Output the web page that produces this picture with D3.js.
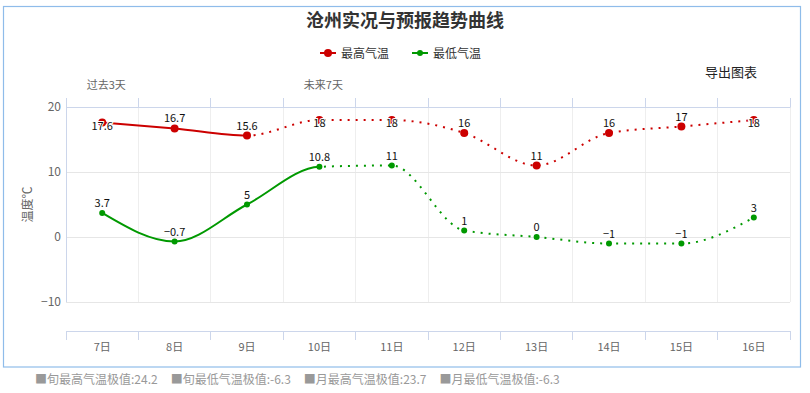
<!DOCTYPE html>
<html><head><meta charset="utf-8">
<script src="https://cdn.jsdelivr.net/npm/d3@7/dist/d3.min.js"></script>
<style>
html,body{margin:0;padding:0;background:#fff;}
text{font-family:"Noto Sans CJK SC","Noto Sans",sans-serif;}
</style></head>
<body><svg id="c" width="810" height="393"></svg>
<script>
const categories = ["7日","8日","9日","10日","11日","12日","13日","14日","15日","16日"];
const highTemps = [17.6, 16.7, 15.6, 18, 18, 16, 11, 16, 17, 18];
const lowTemps  = [3.7, -0.7, 5, 10.8, 11, 1, 0, -1, -1, 3];
const highObservedCount = 3;   // solid part (past)
const lowObservedCount = 4;
const topLabels = ["过去3天","","","未来7天","","","","","",""];
const yTicks = [-10, 0, 10, 20];
const seriesNames = ["最高气温","最低气温"];
const footItems = ["■旬最高气温极值:24.2","■旬最低气温极值:-6.3","■月最高气温极值:23.7","■月最低气温极值:-6.3"];

const svg = d3.select("#c");
const W = 810, H = 393;
const L = 66, R = 790, T = 107, B = 302;
const red = "#cc0000", green = "#009900";

// border
svg.append("rect").attr("x",3.5).attr("y",6.5).attr("width",797).attr("height",360.5)
  .attr("fill","none").attr("stroke","#8fbcea").attr("stroke-width",1.2);

// title
svg.append("text").attr("x",405).attr("y",27).attr("text-anchor","middle")
  .attr("font-size",18).attr("font-weight","bold").attr("fill","#333").text("沧州实况与预报趋势曲线");

const x = d3.scaleBand().domain(categories).range([L,R]).padding(0);
const xc = d => x(d) + x.bandwidth()/2;
const y = d3.scaleLinear().domain([-10,20]).range([B,T]);

// vertical grid
const bounds = categories.map(c => x(c)).concat([R]);
svg.append("g").selectAll("line").data(bounds.slice(1)).join("line")
  .attr("x1",d=>d).attr("x2",d=>d).attr("y1",T).attr("y2",B)
  .attr("stroke","#eeeeee").attr("stroke-width",1).attr("shape-rendering","crispEdges");
// horizontal grid
svg.append("g").selectAll("line").data(yTicks).join("line")
  .attr("x1",L).attr("x2",R).attr("y1",d=>y(d)).attr("y2",d=>y(d))
  .attr("stroke","#e6e6e6").attr("stroke-width",1).attr("shape-rendering","crispEdges");
// left edge
svg.append("line").attr("x1",L).attr("x2",L).attr("y1",T).attr("y2",B)
  .attr("stroke","#ccd6eb").attr("shape-rendering","crispEdges");

// y axis
const yAxis = svg.append("g").attr("transform",`translate(${L},0)`)
  .call(d3.axisLeft(y).tickValues(yTicks).tickSize(0).tickPadding(5));
yAxis.select(".domain").remove();
yAxis.selectAll("text").attr("font-size",12).attr("fill","#666").attr("font-family","Noto Sans CJK SC");

// top axis
const topAxis = svg.append("g").attr("transform",`translate(0,${T})`)
  .call(d3.axisTop(x).tickSize(0).tickPadding(18).tickFormat((d,i)=>topLabels[i]));
topAxis.select(".domain").attr("stroke","#ccd6eb");
topAxis.selectAll("text").attr("font-size",11).attr("fill","#666").attr("font-family","Noto Sans CJK SC")
  .attr("dx",4);
svg.append("g").selectAll("line").data(bounds).join("line")
  .attr("x1",d=>d).attr("x2",d=>d).attr("y1",T-9).attr("y2",T)
  .attr("stroke","#ccd6eb").attr("shape-rendering","crispEdges");

// bottom axis (offset)
const BA = 331;
const botAxis = svg.append("g").attr("transform",`translate(0,${BA})`)
  .call(d3.axisBottom(x).tickSize(0).tickPadding(12));
botAxis.select(".domain").attr("stroke","#ccd6eb");
botAxis.selectAll("text").attr("font-size",11).attr("fill","#666").attr("font-family","Noto Sans CJK SC");
svg.append("g").selectAll("line").data(bounds).join("line")
  .attr("x1",d=>d).attr("x2",d=>d).attr("y1",BA).attr("y2",BA+9)
  .attr("stroke","#ccd6eb").attr("shape-rendering","crispEdges");

// y title
svg.append("text").attr("transform",`translate(32,${(T+B)/2}) rotate(-90)`).attr("text-anchor","middle")
  .attr("font-size",12).attr("fill","#666").text("温度℃");

// export label
svg.append("text").attr("x",731).attr("y",77).attr("text-anchor","middle")
  .attr("font-size",13).attr("fill","#222").text("导出图表");

// legend
const legend = [{name:seriesNames[0],color:red,cx:328,r:4},{name:seriesNames[1],color:green,cx:420,r:3}];
legend.forEach(l=>{
  svg.append("line").attr("x1",l.cx-8).attr("x2",l.cx+8).attr("y1",53).attr("y2",53).attr("stroke",l.color).attr("stroke-width",2);
  svg.append("circle").attr("cx",l.cx).attr("cy",53).attr("r",l.r).attr("fill",l.color);
  svg.append("text").attr("x",l.cx+13).attr("y",57.5).attr("font-size",12).attr("fill","#333").text(l.name);
});

// clip paths
const defs = svg.append("defs");
function addClip(id, x0, x1){
  defs.append("clipPath").attr("id",id).append("rect").attr("x",x0).attr("y",0).attr("width",x1-x0).attr("height",H);
}
const hSplit = xc(categories[highObservedCount-1]);
const lSplit = xc(categories[lowObservedCount-1]);
addClip("hSolid",0,hSplit); addClip("hDot",hSplit,W);
addClip("lSolid",0,lSplit); addClip("lDot",lSplit,W);

const line = d3.line().x((d,i)=>xc(categories[i])).y(d=>y(d)).curve(d3.curveMonotoneX);

function drawSeries(vals,color,solidClip,dotClip){
  svg.append("path").attr("d",line(vals)).attr("fill","none").attr("stroke",color).attr("stroke-width",2)
    .attr("clip-path",`url(#${solidClip})`);
  svg.append("path").attr("d",line(vals)).attr("fill","none").attr("stroke",color).attr("stroke-width",2)
    .attr("stroke-dasharray","2,6").attr("clip-path",`url(#${dotClip})`);
}
drawSeries(highTemps,red,"hSolid","hDot");
drawSeries(lowTemps,green,"lSolid","lDot");

// markers
svg.append("g").selectAll("circle").data(highTemps).join("circle")
  .attr("cx",(d,i)=>xc(categories[i])).attr("cy",d=>y(d)).attr("r",4).attr("fill",red);
svg.append("g").selectAll("circle").data(lowTemps).join("circle")
  .attr("cx",(d,i)=>xc(categories[i])).attr("cy",d=>y(d)).attr("r",3).attr("fill",green);

// data labels
function labels(vals){
  svg.append("g").selectAll("text").data(vals).join("text")
    .attr("x",(d,i)=>xc(categories[i]))
    .attr("y",d=>{const py=y(d); return (py-17 < T) ? py+7 : py-6;})
    .attr("text-anchor","middle").attr("font-size",11).attr("fill","#111")
    .attr("stroke","#fff").attr("stroke-width",2).attr("paint-order","stroke")
    .attr("font-family","Noto Sans, sans-serif")
    .text(d=> d<0 ? "\u2212"+Math.abs(d) : String(d));
}
labels(highTemps);
labels(lowTemps);

// footer
let fx = 35;
footItems.forEach(t=>{
  const el = svg.append("text").attr("x",fx).attr("y",384).attr("font-size",12).attr("fill","#999").text(t);
  fx += el.node().getComputedTextLength() + 13;
});
</script></body></html>
